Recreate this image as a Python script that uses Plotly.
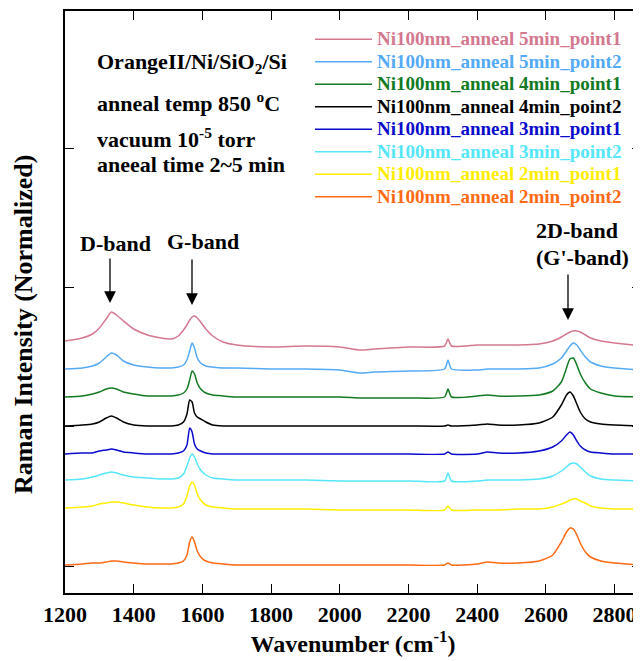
import plotly.graph_objects as go

# Wavenumber grid (cm^-1)
wavenumber = [1200, 1250, 1280, 1300, 1320, 1335, 1350, 1370, 1400, 1440, 1480, 1510, 1530, 1545, 1555,
              1563, 1570, 1577, 1585, 1595, 1610, 1630, 1660, 1700, 1800, 1900, 2000, 2060, 2100, 2200,
              2305, 2315, 2325, 2400, 2430, 2460, 2520, 2580, 2620, 2645, 2660, 2670, 2680, 2690, 2700,
              2715, 2730, 2760, 2800, 2880]

# Stacked normalized intensities (offset included)
a5_p1 = [225, 228, 232, 238, 247, 254, 251, 245, 237, 231, 228, 227, 230, 236, 241,
         246, 249, 250, 248, 244, 237, 230, 224, 221, 219, 220, 219, 216, 217, 219,
         220, 227, 220, 221, 221, 221, 221, 222, 225, 229, 232, 234, 235, 235, 234,
         231, 228, 225, 223, 220]
a5_p2 = [197, 198, 200, 203, 209, 213, 211, 205, 201, 199, 198, 198, 199, 201, 206,
         215, 223, 218, 208, 203, 200, 199, 198, 198, 197, 197, 196, 193, 194, 195,
         197, 206, 197, 196, 197, 197, 197, 198, 202, 208, 215, 220, 223, 221, 216,
         209, 204, 200, 198, 196]
a4_p1 = [169, 170, 172, 174, 177, 178, 177, 174, 172, 170, 170, 170, 171, 173, 177,
         186, 195, 192, 183, 177, 173, 171, 170, 169, 169, 169, 169, 168, 168, 168,
         169, 177, 169, 170, 171, 170, 170, 171, 175, 184, 198, 207, 208, 201, 192,
         183, 177, 173, 170, 169]
a4_p2 = [140, 141, 142, 144, 148, 150, 148, 144, 141, 140, 140, 140, 141, 144, 152,
         166, 164, 153, 149, 147, 144, 141, 140, 140, 140, 140, 140, 140, 140, 140,
         140, 141, 140, 141, 142, 141, 141, 143, 149, 161, 171, 174, 170, 162, 154,
         147, 144, 142, 141, 140]
a3_p1 = [112, 113, 113, 115, 116, 117, 116, 114, 113, 112, 112, 112, 113, 115, 121,
         138, 134, 122, 117, 115, 113, 112, 112, 112, 112, 112, 112, 112, 112, 112,
         112, 114, 112, 112, 114, 113, 113, 115, 119, 125, 131, 134, 131, 125, 120,
         116, 114, 113, 112, 112]
a3_p2 = [86, 87, 89, 91, 93, 94, 93, 91, 89, 88, 87, 87, 88, 92, 100,
         108, 112, 109, 102, 96, 91, 88, 87, 86, 86, 86, 85, 85, 85, 85,
         85, 93, 85, 85, 86, 86, 86, 87, 90, 95, 99, 102, 103, 102, 99,
         94, 90, 87, 86, 85]
a2_p1 = [58, 59, 60, 62, 63, 64, 64, 63, 61, 59, 58, 58, 59, 62, 70,
         80, 84, 81, 72, 66, 61, 59, 58, 57, 57, 57, 56, 56, 56, 56,
         56, 60, 56, 56, 56, 56, 57, 57, 59, 62, 64, 66, 67, 67, 65,
         63, 60, 58, 57, 57]
a2_p2 = [1, 2, 3, 3, 4, 5, 5, 4, 3, 2, 2, 2, 3, 5, 11,
         24, 29, 24, 15, 9, 5, 3, 2, 1, 1, 1, 1, 1, 1, 1,
         1, 3, 1, 2, 4, 3, 3, 5, 11, 24, 34, 38, 37, 31, 23,
         14, 9, 5, 3, 1]

series_names = ["Ni100nm_anneal 5min_point1", "Ni100nm_anneal 5min_point2",
                "Ni100nm_anneal 4min_point1", "Ni100nm_anneal 4min_point2",
                "Ni100nm_anneal 3min_point1", "Ni100nm_anneal 3min_point2",
                "Ni100nm_anneal 2min_point1", "Ni100nm_anneal 2min_point2"]
series_values = [a5_p1, a5_p2, a4_p1, a4_p2, a3_p1, a3_p2, a2_p1, a2_p2]
series_colors = ["#D4788F", "#55AAF5", "#127A22", "#000000",
                 "#0A0ACD", "#55E6FA", "#FFEE00", "#FF6A14"]

x_ticks = [1200, 1400, 1600, 1800, 2000, 2200, 2400, 2600, 2800]

FONT = "Liberation Serif"

fig = go.Figure()
for name, vals, col in zip(series_names, series_values, series_colors):
    fig.add_trace(go.Scatter(
        x=wavenumber, y=vals, mode="lines",
        line=dict(color=col, width=1.5, shape="spline", smoothing=0.6),
        name=f'<span style="color:{col};font-size:19px"><b>{name}</b></span>'))

# The page body has an 8 px default margin, so the figure is 8 px smaller than the window
W, H = 633, 653
L, R, T, B = 57, 0, 3, 68
pw, ph = W - L - R, H - T - B
OFF = 8  # page offset of the figure


def px(xp):
    """page x pixel -> paper fraction"""
    return (xp - OFF - L) / pw


def py(yp):
    """page y pixel -> paper fraction"""
    return (H - B - (yp - OFF)) / ph


annotations = []
text_lines = [("<b>OrangeII/Ni/SiO<sub>2</sub>/Si</b>", 63),
              ("<b>anneal temp 850 <sup>o</sup>C</b>", 102),
              ("<b>vacuum 10<sup>-5</sup> torr</b>", 138),
              ("<b>aneeal time 2~5 min</b>", 165)]
for t, yy in text_lines:
    annotations.append(dict(text=t, x=px(95), y=py(yy), xref="paper", yref="paper",
                            xanchor="left", yanchor="middle", showarrow=False,
                            font=dict(family=FONT, size=22, color="black")))

band_labels = [("<b>D-band</b>", 115, 243), ("<b>G-band</b>", 203, 241),
               ("<b>2D-band</b>", 577, 230), ("<b>(G'-band)</b>", 582, 257)]
for t, xx, yy in band_labels:
    annotations.append(dict(text=t, x=px(xx), y=py(yy), xref="paper", yref="paper",
                            xanchor="center", yanchor="middle", showarrow=False,
                            font=dict(family=FONT, size=22, color="black")))

arrows = [(110, 257, 303), (192, 258, 305), (568, 273, 320)]
for xx, y0, y1 in arrows:
    annotations.append(dict(text="", x=px(xx), y=py(y1), xref="paper", yref="paper",
                            ax=0, ay=-(y1 - y0), showarrow=True, arrowhead=2,
                            arrowsize=1.8, arrowwidth=1.3, arrowcolor="black"))

# y-axis title (centred where the reference draws it)
annotations.append(dict(text="<b>Raman Intensity (Normalized)</b>", x=px(23), y=py(325),
                        xref="paper", yref="paper", xanchor="center", yanchor="middle",
                        textangle=-90, showarrow=False,
                        font=dict(family=FONT, size=26, color="black")))

fig.update_layout(
    width=W, height=H,
    margin=dict(l=L, r=R, t=T, b=B),
    paper_bgcolor="white", plot_bgcolor="white",
    showlegend=True,
    legend=dict(x=px(310), y=py(23), xanchor="left", yanchor="top",
                bgcolor="rgba(0,0,0,0)", font=dict(family=FONT, size=15, color="black"),
                itemwidth=57, tracegroupgap=0),
    annotations=annotations,
    xaxis=dict(range=[1200, 1200 + pw / 0.3435], tickvals=x_ticks,
               ticktext=[f"<b>{v}</b>" for v in x_ticks],
               ticks="inside", ticklen=9, tickcolor="black", tickwidth=1,
               showline=True, linecolor="black", linewidth=1.5, mirror="ticks",
               showgrid=False, zeroline=False, automargin=False, ticklabelstandoff=1,
               tickfont=dict(family=FONT, size=22, color="black"),
               title=dict(text="<b>Wavenumber (cm<sup>-1</sup>)</b>", standoff=6,
                          font=dict(family=FONT, size=24, color="black"))),
    yaxis=dict(range=[-27, 555], tick0=0, dtick=139.3, showticklabels=False,
               ticks="inside", ticklen=9, tickcolor="black", tickwidth=1,
               showline=True, linecolor="black", linewidth=1.5, mirror="ticks",
               showgrid=False, zeroline=False, automargin=False),
)

fig.write_html("out.html")
